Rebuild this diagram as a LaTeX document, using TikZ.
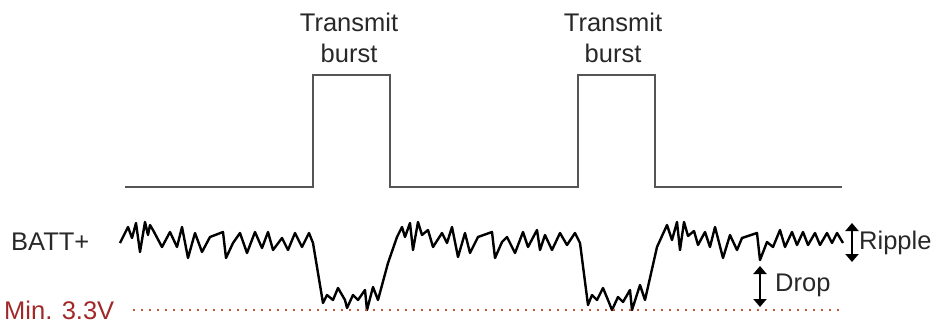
\documentclass[tikz,border=0pt]{standalone}
\usepackage{fontspec}
\setmainfont{Liberation Sans}
\usetikzlibrary{arrows.meta}
\definecolor{txt}{RGB}{40,40,40}
\definecolor{pulsec}{RGB}{85,85,85}
\definecolor{minred}{RGB}{160,40,40}
\definecolor{dotred}{RGB}{200,85,60}
\tikzset{
  lbl/.style={font=\fontsize{25.5}{31}\selectfont, text=txt, inner sep=0pt},
  pulse/.style={draw=pulsec, line width=2.8pt, line join=miter},
  noise/.style={draw=black, line width=2.4pt, line join=round},
  dimarrow/.style={draw=black, line width=2.2pt, {Triangle[width=13pt,length=8pt]}-{Triangle[width=13pt,length=8pt]}},
}
\begin{document}
\begin{tikzpicture}[x=1pt,y=-1pt]
\useasboundingbox (0,0) rectangle (938,327);
% pulse train
\draw[pulse] (125,187) -- (313,187) -- (313,75) -- (390,75) -- (390,187)
  -- (578,187) -- (578,75) -- (655,75) -- (655,187) -- (842,187);
\node[lbl, align=center] (tb1) at (349,38) {Transmit\\burst};
\node[lbl, align=center] (tb2) at (613,38) {Transmit\\burst};
% battery voltage
\node[lbl, anchor=west] (batt) at (11,242) {BATT+};
\draw[noise] (120,243) -- (128,227) -- (132,238) -- (136,223) -- (140,252) -- (145,222)
 -- (148,235) -- (150,225) -- (153,230) -- (162,247) -- (170,232) -- (177,247)
 -- (182,227) -- (188,258) -- (195,233) -- (202,252) -- (210,237) -- (223,232)
 -- (226,258) -- (233,243) -- (240,233) -- (247,253) -- (255,232) -- (262,248)
 -- (268,232) -- (273,250) -- (282,238) -- (288,250) -- (295,233) -- (302,247)
 -- (309,233) -- (313,243)
 -- (323,303) -- (327,295) -- (333,300) -- (338,288) -- (345,300) -- (347,308)
 -- (353,295) -- (358,300) -- (365,290) -- (367,310) -- (373,287) -- (378,300)
 -- (388,263) -- (397,237) -- (402,227) -- (405,237) -- (410,223) -- (413,250)
 -- (418,222) -- (422,235) -- (428,230) -- (433,247) -- (442,233) -- (447,243)
 -- (452,227) -- (458,257) -- (465,233) -- (470,253) -- (478,237) -- (492,232)
 -- (495,258) -- (502,242) -- (507,237) -- (515,253) -- (523,232) -- (528,247)
 -- (537,230) -- (540,250) -- (545,235) -- (552,250) -- (560,233) -- (567,245)
 -- (575,233) -- (580,243)
 -- (588,305) -- (592,295) -- (597,300) -- (603,288) -- (608,300) -- (612,310)
 -- (618,297) -- (623,302) -- (630,290) -- (632,310) -- (640,285) -- (645,300)
 -- (657,247) -- (667,225) -- (672,240) -- (677,222) -- (680,250) -- (684,222)
 -- (688,236) -- (694,231) -- (698,245) -- (705,232) -- (710,247) -- (715,227)
 -- (723,258) -- (730,235) -- (737,250) -- (742,238) -- (757,233) -- (760,260)
 -- (767,242) -- (773,247) -- (780,230) -- (785,247) -- (792,232) -- (797,245)
 -- (803,232) -- (808,245) -- (815,233) -- (820,245) -- (827,233) -- (832,243)
 -- (837,233) -- (843,243);
% minimum level
\node[lbl, anchor=west, text=minred] (minv) at (4,310) {Min. 3.3V};
\coordinate (d0) at (133,310);
\coordinate (d1) at (840,310);
\draw[dotred, line width=2.4pt, dash pattern=on 2.4pt off 5.6pt] (d0) -- (d1);
% ripple and drop
\coordinate (r0) at (852,223);
\coordinate (r1) at (852,262);
\draw[dimarrow] (r0) -- (r1);
\node[lbl, anchor=west] (ripple) at (859,243) {Ripple};
\coordinate (p0) at (760,266);
\coordinate (p1) at (760,307);
\draw[dimarrow] (p0) -- (p1);
\node[lbl, anchor=west] (drop) at (775,285) {Drop};
\end{tikzpicture}
\end{document}
